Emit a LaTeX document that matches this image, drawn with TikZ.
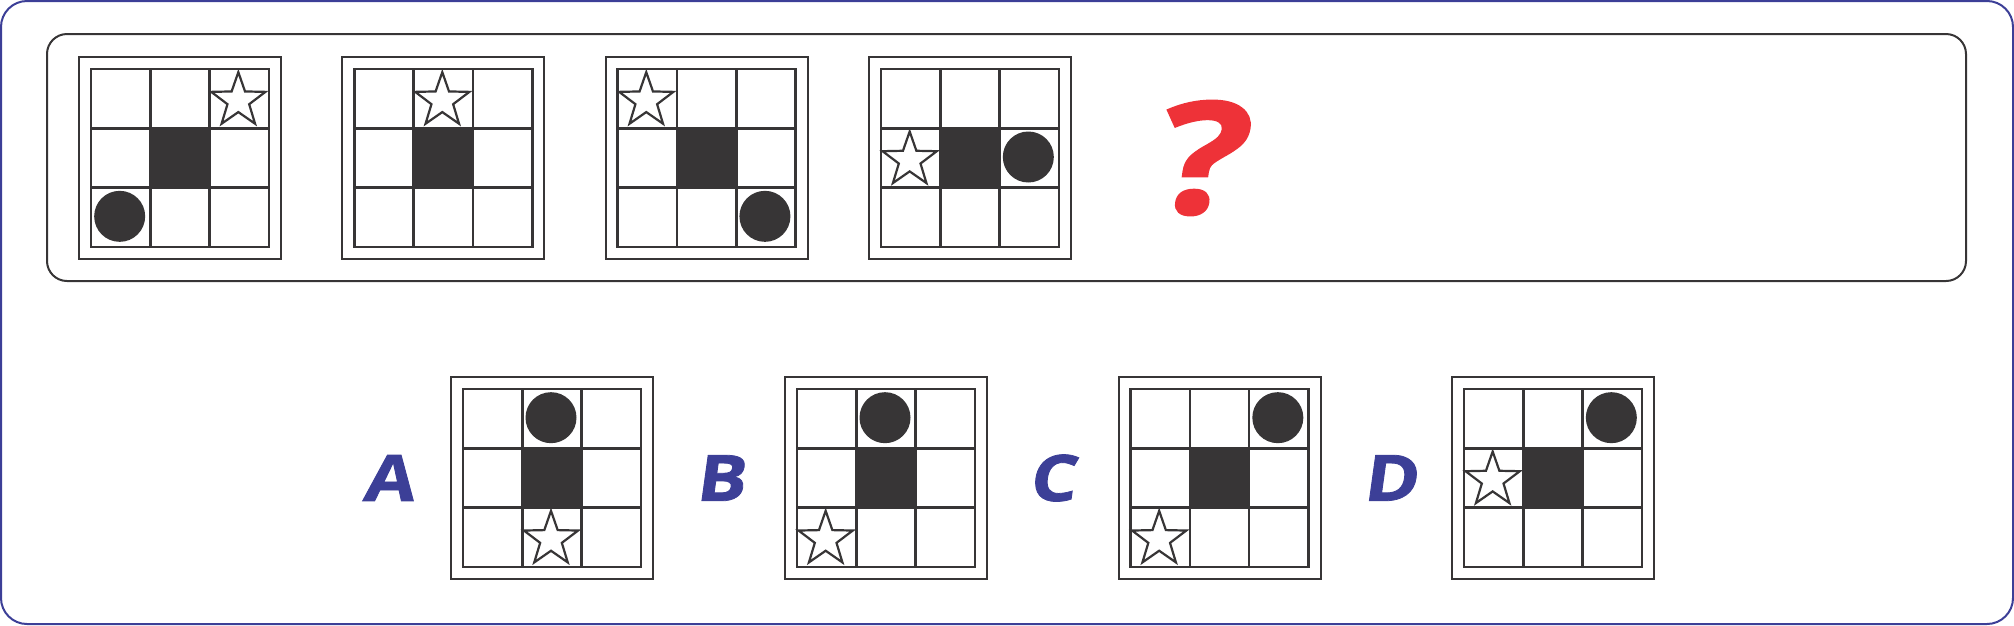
\documentclass[tikz,border=0pt]{standalone}
\usepackage{fontspec}
\usetikzlibrary{shapes.geometric,calc}
\newfontfamily\lettfont{Open Sans}[BoldFeatures={FakeSlant=0.12,FakeBold=1.2}]
\definecolor{frameblue}{HTML}{3C3F97}
\definecolor{ink}{HTML}{373536}
\definecolor{qred}{HTML}{EE3238}
\tikzset{
  outerbox/.style={draw=ink, line width=2pt, minimum size=202pt, inner sep=0pt, fill=white},
  gridline/.style={draw=ink, line width=2.5pt},
  mystar/.style={star, star points=5, star point ratio=2.5, minimum size=57pt, inner sep=0pt, draw=ink, line width=2.2pt, fill=white},
  dot/.style={circle, fill=ink, minimum size=51pt, inner sep=0pt},
  optlabel/.style={text=frameblue, font=\lettfont\bfseries\fontsize{64}{64}\selectfont, inner sep=0pt},
}
\newcommand\panel[3]{%
  \begin{scope}[shift={(#2,#3)}]
    \node[outerbox] (#1) at (101,101) {};
    \fill[ink] (71.33,71.33) rectangle (130.67,130.67);
    \draw[gridline] (12,12) rectangle (190,190);
    \draw[gridline] (71.33,12) -- (71.33,190) (130.67,12) -- (130.67,190)
                    (12,71.33) -- (190,71.33) (12,130.67) -- (190,130.67);
  \end{scope}}
\newcommand\pstar[3]{\node[mystar] at ($(#1.north west)+(41.67+#2*59.33,44.67+#3*59.33)$) {};}
\newcommand\pdot[3]{\node[dot] at ($(#1.north west)+(41.67+#2*59.33,41.67+#3*59.33)$) {};}
\begin{document}
\begin{tikzpicture}[x=1pt,y=-1pt]
  \useasboundingbox (0,0) rectangle (2014,625);
  \draw[frameblue, line width=2pt, rounded corners=26pt] (1,1) rectangle (2013,624);
  \draw[ink, line width=2pt, rounded corners=20pt] (47,34) rectangle (1966,281);
  % top row
  \panel{p1}{79}{57}
  \pstar{p1}{2}{0}\pdot{p1}{0}{2}
  \panel{p2}{342.3}{57}
  \pstar{p2}{1}{0}
  \panel{p3}{605.6}{57}
  \pstar{p3}{0}{0}\pdot{p3}{2}{2}
  \panel{p4}{869}{57}
  \pstar{p4}{0}{1}\pdot{p4}{2}{1}
  \node[text=qred, font=\lettfont\bfseries\fontsize{156}{156}\selectfont, inner sep=0pt] (q) at (1197,158) {\scalebox{1.2}[1]{?}};
  % bottom row
  \panel{pa}{451}{377}
  \pdot{pa}{1}{0}\pstar{pa}{1}{2}
  \panel{pb}{785}{377}
  \pdot{pb}{1}{0}\pstar{pb}{0}{2}
  \panel{pc}{1118.5}{377}
  \pdot{pc}{2}{0}\pstar{pc}{0}{2}
  \panel{pd}{1452}{377}
  \pdot{pd}{2}{0}\pstar{pd}{0}{1}
  \node[optlabel] (la) at (388,478) {\scalebox{1.15}[1]{A}};
  \node[optlabel] (lb) at (720,478) {\scalebox{1.15}[1]{B}};
  \node[optlabel] (lc) at (1052,478) {\scalebox{1.15}[1]{C}};
  \node[optlabel] (ld) at (1390,478) {\scalebox{1.15}[1]{D}};
\end{tikzpicture}
\end{document}
